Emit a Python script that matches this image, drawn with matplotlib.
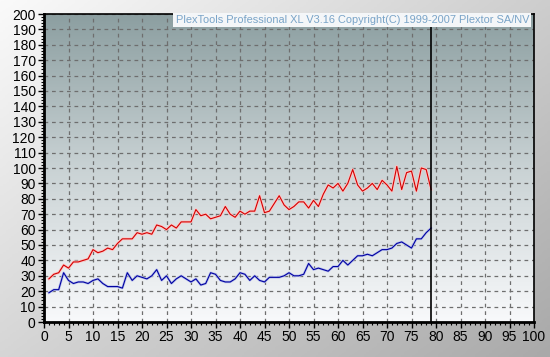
#!/usr/bin/env python3

import matplotlib
matplotlib.use("Agg")
import matplotlib.pyplot as plt
from matplotlib.colors import LinearSegmentedColormap
from matplotlib.ticker import MultipleLocator
import numpy as np

# data (x = position, one point per unit)
x = list(range(1, 80))
red = [28, 31, 32, 37, 35, 39, 39, 40, 41, 47,
       45, 46, 48, 47, 51, 54, 54, 54, 58, 57,
       58, 57, 63, 62, 60, 63, 61, 65, 65, 65,
       73, 69, 70, 67, 68, 69, 75, 70, 68, 72,
       70, 72, 72, 82, 71, 72, 77, 82, 76, 73,
       75, 78, 78, 74, 79, 75, 83, 89, 87, 90,
       85, 90, 99, 89, 85, 87, 90, 86, 92, 89,
       85, 101, 86, 97, 98, 85, 100, 99, 86]
blue = [19, 21, 21, 32, 27, 25, 26, 26, 25, 27,
        28, 25, 23, 23, 23, 22, 32, 27, 30, 29,
        28, 30, 34, 27, 30, 25, 28, 30, 28, 26,
        28, 24, 25, 32, 31, 27, 26, 26, 28, 32,
        31, 27, 30, 27, 26, 29, 29, 29, 30, 32,
        30, 30, 31, 38, 34, 35, 34, 33, 36, 36,
        40, 37, 40, 43, 43, 44, 43, 45, 47, 47,
        48, 51, 52, 50, 48, 54, 54, 58, 61]
marker_x = 79
title = "PlexTools Professional XL V3.16 Copyright(C) 1999-2007 Plextor SA/NV"

plt.rcParams['font.family'] = ['Liberation Sans', 'DejaVu Sans']

W, H = 550, 357
fig = plt.figure(figsize=(W / 100, H / 100), dpi=100)

# figure background: diagonal light -> gray gradient
bg = fig.add_axes([0, 0, 1, 1], zorder=-10)
gx, gy = np.meshgrid(np.linspace(0, 1, 200), np.linspace(0, 1, 200))
g = 0.55 * gx + 0.45 * gy
bg_cmap = LinearSegmentedColormap.from_list('bg', ['#fafafa', '#a9a9a9'])
bg.imshow(g, cmap=bg_cmap, aspect='auto', extent=[0, 1, 0, 1], origin='upper')
bg.axis('off')

left, right, top, bottom = 44, 534, 14, 322
ax = fig.add_axes([left / W, 1 - bottom / H, (right - left) / W, (bottom - top) / H])

# plot area: vertical gradient from dark teal-gray to white
pa_cmap = LinearSegmentedColormap.from_list('pa', ['#8c9fa1', '#c9d2d4', '#f8f9fb'])
ax.imshow(np.linspace(0, 1, 256).reshape(-1, 1), cmap=pa_cmap, aspect='auto',
          extent=[0, 100, 0, 200], origin='upper', zorder=0)

ax.set_xlim(0, 100)
ax.set_ylim(0, 200)
ax.xaxis.set_major_locator(MultipleLocator(5))
ax.yaxis.set_major_locator(MultipleLocator(10))
ax.xaxis.set_minor_locator(MultipleLocator(1))
ax.yaxis.set_minor_locator(MultipleLocator(2))
ax.grid(True, which='major', color='#6e6e6e', linestyle=(0, (3, 3)), linewidth=0.9, zorder=1)
ax.tick_params(which='major', direction='out', length=4, width=1, labelsize=10,
               colors='black', pad=2)
ax.tick_params(which='minor', direction='out', length=2, width=0.8)
for s in ['left', 'bottom']:
    ax.spines[s].set_linewidth(2)
for s in ['top', 'right']:
    ax.spines[s].set_linewidth(1.2)

ax.plot(x, red, color='#ffc4c4', linewidth=2.0, zorder=2, solid_joinstyle='round')
ax.plot(x, red, color='#d00000', linewidth=0.8, zorder=3)
ax.plot(x, blue, color='#b8c0ec', linewidth=1.8, zorder=2, solid_joinstyle='round')
ax.plot(x, blue, color='#0000a0', linewidth=0.8, zorder=3)
ax.axvline(marker_x, color='black', linewidth=1.2, zorder=4)

ax.text(0.99, 0.996, title, transform=ax.transAxes, ha='right', va='top',
        fontsize=7.9, color='#7aa4c8', zorder=6,
        bbox=dict(boxstyle='square,pad=0.2', facecolor='#f4f6f8', edgecolor='none'))

fig.savefig('out.png', dpi=100)
